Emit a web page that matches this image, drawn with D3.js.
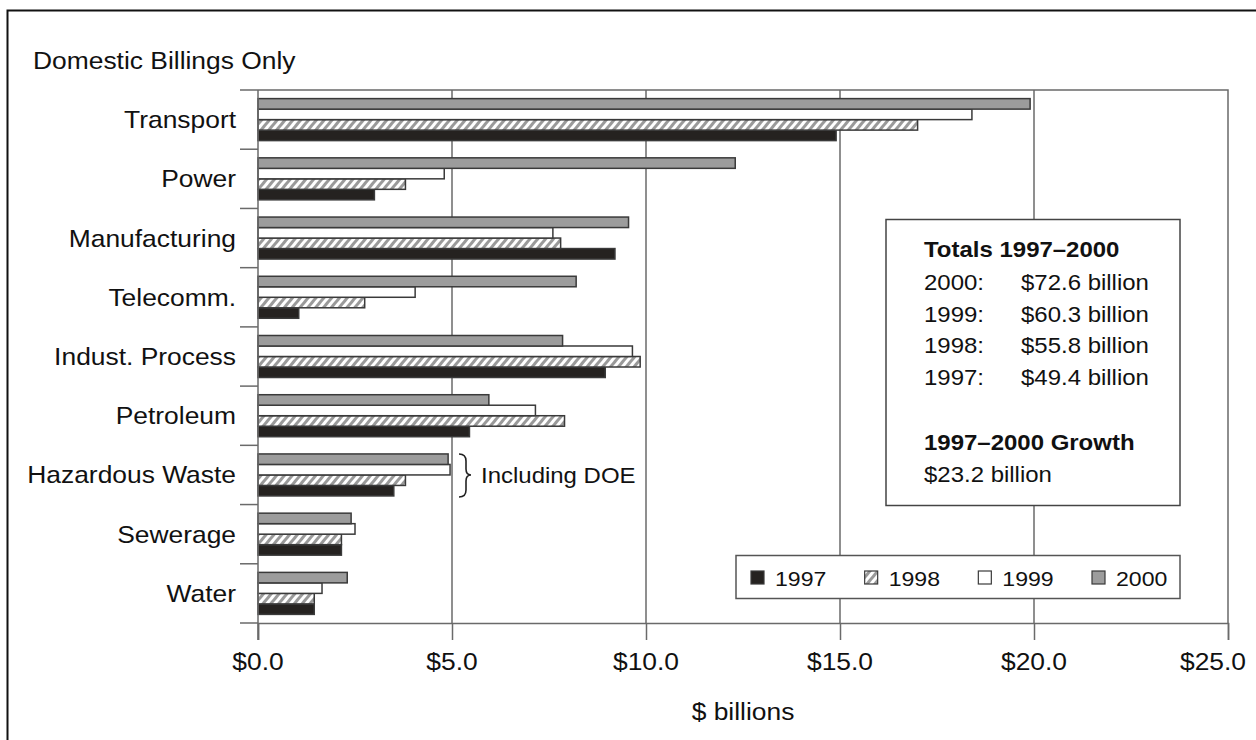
<!DOCTYPE html>
<html>
<head>
<meta charset="utf-8">
<script src="https://cdn.jsdelivr.net/npm/d3@7"></script>
<style>
  html, body { margin: 0; padding: 0; background: #fff; }
  svg { display: block; }
  text { font-family: "Liberation Sans", Arial, Helvetica, sans-serif; fill: #111; }
</style>
</head>
<body>
<svg id="chart" width="1256" height="740"></svg>
<script>
// ---------- data ----------
const categories = ["Transport", "Power", "Manufacturing", "Telecomm.", "Indust. Process",
                    "Petroleum", "Hazardous Waste", "Sewerage", "Water"];
const years = ["1997", "1998", "1999", "2000"];
const values1997 = [14.9, 3.0, 9.2, 1.05, 8.95, 5.45, 3.5, 2.15, 1.45];
const values1998 = [17.0, 3.8, 7.8, 2.75, 9.85, 7.9, 3.8, 2.15, 1.45];
const values1999 = [18.4, 4.8, 7.6, 4.05, 9.65, 7.15, 4.95, 2.5, 1.65];
const values2000 = [19.9, 12.3, 9.55, 8.2, 7.85, 5.95, 4.9, 2.4, 2.3];
const xTickValues = [0, 5, 10, 15, 20, 25];
const totalsLabels = ["2000:", "1999:", "1998:", "1997:"];
const totalsValues = ["$72.6 billion", "$60.3 billion", "$55.8 billion", "$49.4 billion"];
const growthValue = "$23.2 billion";

const seriesByYear = { "1997": values1997, "1998": values1998, "1999": values1999, "2000": values2000 };

// ---------- setup ----------
const svg = d3.select("#chart");
const SX = 1.1; // horizontal text stretch seen in the reference
const FS = 24;

function txt(parent, x, y, s, anchor, size, weight) {
  return parent.append("text")
    .attr("transform", `translate(${x},${y}) scale(${SX},1)`)
    .attr("text-anchor", anchor || "start")
    .style("font-size", (size || FS) + "px")
    .style("font-weight", weight || "normal")
    .text(s);
}

const defs = svg.append("defs");
const pat = defs.append("pattern")
  .attr("id", "hatch")
  .attr("patternUnits", "userSpaceOnUse")
  .attr("width", 6).attr("height", 10)
  .attr("patternTransform", "rotate(40)");
pat.append("rect").attr("width", 6).attr("height", 10).attr("fill", "#fff");
pat.append("rect").attr("width", 3).attr("height", 10).attr("fill", "#9a9a9a");

const fills = { "1997": "#252220", "1998": "url(#hatch)", "1999": "#ffffff", "2000": "#9c9c9c" };

// outer frame (top + left)
svg.append("path")
  .attr("d", "M7.5,740 L7.5,10.5 L1256,10.5")
  .attr("fill", "none").attr("stroke", "#111").attr("stroke-width", 2);

const plot = { left: 258, right: 1228, top: 90, bottom: 623 };

const x = d3.scaleLinear().domain([0, 25]).range([plot.left, plot.right]);
const y = d3.scaleBand().domain(categories).range([plot.top, plot.bottom]).paddingInner(0).paddingOuter(0);
const yInner = d3.scaleBand().domain(["2000", "1999", "1998", "1997"])
  .range([0, y.bandwidth()]).paddingInner(0).paddingOuter(0.82);

// gridlines
svg.append("g").selectAll("line")
  .data(xTickValues.filter(d => d > 0 && d < 25))
  .join("line")
  .attr("x1", d => x(d)).attr("x2", d => x(d))
  .attr("y1", plot.top).attr("y2", plot.bottom)
  .attr("stroke", "#6a6a6a").attr("stroke-width", 1.5);

// plot border (top & right)
svg.append("path")
  .attr("d", `M${plot.left},${plot.top} L${plot.right},${plot.top} L${plot.right},${plot.bottom}`)
  .attr("fill", "none").attr("stroke", "#6a6a6a").attr("stroke-width", 1.5);

// bars
const barG = svg.append("g");
years.forEach(yr => {
  barG.append("g").selectAll("rect")
    .data(categories.map((c, i) => ({ c, v: seriesByYear[yr][i] })))
    .join("rect")
    .attr("x", x(0))
    .attr("y", d => y(d.c) + yInner(yr))
    .attr("width", d => x(d.v) - x(0))
    .attr("height", yInner.bandwidth())
    .attr("fill", fills[yr])
    .attr("stroke", "#3a3a3a").attr("stroke-width", 1.5);
});

// x axis
const xAxis = d3.axisBottom(x).tickValues(xTickValues).tickSize(17).tickFormat(d3.format("$.1f"));
const xg = svg.append("g").attr("transform", `translate(0,${plot.bottom})`).call(xAxis);
xg.select(".domain").attr("stroke", "#6a6a6a").attr("stroke-width", 1.5);
xg.selectAll(".tick line").attr("stroke", "#6a6a6a").attr("stroke-width", 1.5);
xg.selectAll(".tick text").remove();
xTickValues.forEach((d, i) => {
  const last = i === xTickValues.length - 1;
  txt(svg, last ? 1246 : x(d), 670, d3.format("$.1f")(d), last ? "end" : "middle");
});

// y axis: boundary ticks to the left
const bounds = categories.map(c => y(c)).concat([plot.bottom]);
svg.append("g").selectAll("line").data(bounds).join("line")
  .attr("x1", 240).attr("x2", plot.left)
  .attr("y1", d => d).attr("y2", d => d)
  .attr("stroke", "#6a6a6a").attr("stroke-width", 1.5);
svg.append("line")
  .attr("x1", plot.left).attr("x2", plot.left)
  .attr("y1", plot.top).attr("y2", plot.bottom + 17)
  .attr("stroke", "#6a6a6a").attr("stroke-width", 1.5);

categories.forEach(c => txt(svg, 236, y(c) + y.bandwidth() / 2 + 8.5, c, "end"));

// titles
txt(svg, 33, 69, "Domestic Billings Only", "start");
txt(svg, (plot.left + plot.right) / 2, 720, "$ billions", "middle");

// brace + note
svg.append("path")
  .attr("d", "M459,454 Q466,454 466,461 L466,469 Q466,475 471,475 Q466,475 466,481 L466,490 Q466,497 459,497")
  .attr("fill", "none").attr("stroke", "#222").attr("stroke-width", 1.6);
txt(svg, 481, 483, "Including DOE", "start", 21.8);

// totals box
svg.append("rect").attr("x", 886).attr("y", 219.5).attr("width", 294).attr("height", 286)
  .attr("fill", "#fff").attr("stroke", "#444").attr("stroke-width", 1.5);
const TF = 21.8;
txt(svg, 924, 257, "Totals 1997–2000", "start", TF, "bold");
totalsLabels.forEach((l, i) => {
  txt(svg, 924, 290 + i * 31.7, l, "start", TF);
  txt(svg, 1021, 290 + i * 31.7, totalsValues[i], "start", TF);
});
txt(svg, 924, 450, "1997–2000 Growth", "start", TF, "bold");
txt(svg, 924, 482, growthValue, "start", TF);

// legend
svg.append("rect").attr("x", 736).attr("y", 555.5).attr("width", 444).attr("height", 43)
  .attr("fill", "#fff").attr("stroke", "#555").attr("stroke-width", 1.5);
const legX = d3.scalePoint().domain(years).range([751, 1092]);
years.forEach(yr => {
  svg.append("rect").attr("x", legX(yr)).attr("y", 571).attr("width", 13).attr("height", 13)
    .attr("fill", fills[yr]).attr("stroke", "#3a3a3a").attr("stroke-width", 1.2);
  txt(svg, legX(yr) + 24, 586, yr, "start", 21);
});
</script>
</body>
</html>
